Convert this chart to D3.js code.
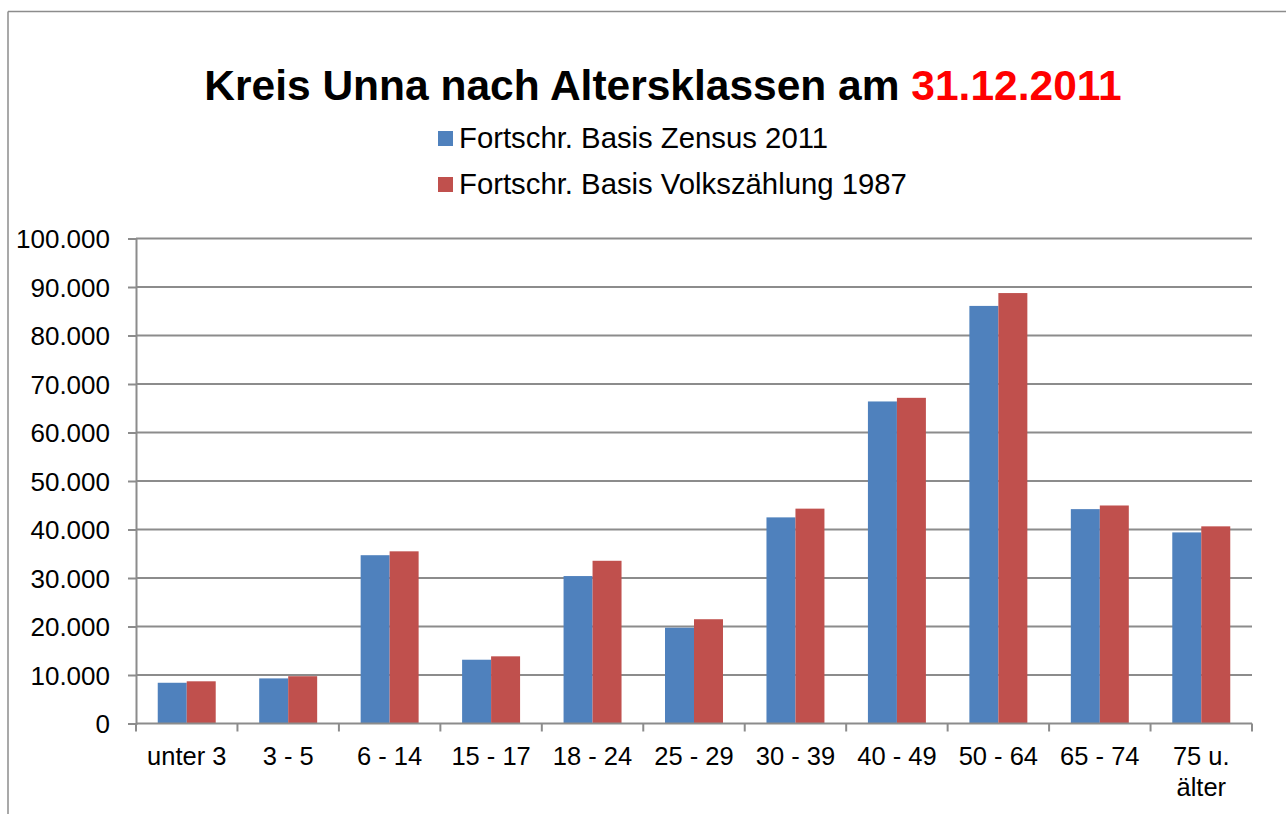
<!DOCTYPE html>
<html>
<head>
<meta charset="utf-8">
<script src="https://cdn.jsdelivr.net/npm/d3@7"></script>
<style>
  body { margin: 0; background: #fff; }
  text { font-family: "Liberation Sans", Arial, sans-serif; fill: #000; }
</style>
</head>
<body>
<div id="chart"></div>
<script>
const categories = ["unter 3", "3 - 5", "6 - 14", "15 - 17", "18 - 24", "25 - 29", "30 - 39", "40 - 49", "50 - 64", "65 - 74", "75 u. älter"];
const seriesNames = ["Fortschr. Basis Zensus 2011", "Fortschr. Basis Volkszählung 1987"];
const zensus2011 = [8400, 9300, 34700, 13150, 30400, 19750, 42500, 66400, 86100, 44200, 39400];
const volkszaehlung1987 = [8700, 9750, 35500, 13850, 33550, 21500, 44300, 67150, 88750, 44950, 40650];
const yTicks = [0, 10000, 20000, 30000, 40000, 50000, 60000, 70000, 80000, 90000, 100000];

const W = 1286, H = 814;
const plot = {left: 136, right: 1252, top: 238.5, bottom: 723.5};
const colors = ["#4F81BD", "#C0504D"];
const gridColor = "#8c8c8c";

const de = d3.formatLocale({decimal: ",", thousands: ".", grouping: [3], currency: ["", " €"]});
const fmt = de.format(",d");

const svg = d3.select("#chart")
    .append("svg")
    .attr("width", W)
    .attr("height", H);

// outer chart border (top + left visible)
svg.append("line").attr("x1", 8).attr("x2", W).attr("y1", 11.5).attr("y2", 11.5)
    .attr("stroke", gridColor).attr("stroke-width", 1.5);
svg.append("line").attr("x1", 8).attr("x2", 8).attr("y1", 11.5).attr("y2", H)
    .attr("stroke", gridColor).attr("stroke-width", 1.5);

// title
const title = svg.append("text")
    .attr("x", 663).attr("y", 100)
    .attr("text-anchor", "middle")
    .style("font-size", "42.5px")
    .style("font-weight", "bold");
title.append("tspan").text("Kreis Unna nach Altersklassen am ");
title.append("tspan").style("fill", "#FF0000").text("31.12.2011");

// legend
seriesNames.forEach((name, i) => {
    const yBase = 148 + i * 46;
    svg.append("rect")
        .attr("x", 438).attr("y", yBase - 17)
        .attr("width", 15).attr("height", 15)
        .attr("fill", colors[i]);
    svg.append("text")
        .attr("x", 459).attr("y", yBase)
        .style("font-size", "29.3px")
        .text(name);
});

const x = d3.scaleBand().domain(categories).range([plot.left, plot.right]);
const y = d3.scaleLinear().domain([0, 100000]).range([plot.bottom, plot.top]);

// gridlines
svg.append("g")
    .selectAll("line")
    .data(yTicks.slice(1))
    .join("line")
    .attr("x1", plot.left).attr("x2", plot.right)
    .attr("y1", d => y(d)).attr("y2", d => y(d))
    .attr("stroke", gridColor).attr("stroke-width", 2);

// bars: gap width 150%
const barW = x.bandwidth() / 3.5;
const allSeries = [zensus2011, volkszaehlung1987];
allSeries.forEach((vals, s) => {
    svg.append("g")
        .selectAll("rect")
        .data(vals)
        .join("rect")
        .attr("x", (d, i) => x(categories[i]) + 0.75 * barW + s * barW)
        .attr("y", d => y(d))
        .attr("width", barW)
        .attr("height", d => y(0) - y(d))
        .attr("fill", colors[s]);
});

// y axis
const yAxis = svg.append("g")
    .attr("transform", `translate(${plot.left},0)`)
    .call(d3.axisLeft(y).tickValues(yTicks).tickFormat(fmt).tickSize(8).tickPadding(18));
yAxis.select(".domain").attr("stroke", gridColor).attr("stroke-width", 2);
yAxis.selectAll(".tick line").attr("stroke", gridColor).attr("stroke-width", 2);
yAxis.selectAll(".tick text")
    .attr("font-family", null).attr("font-size", null)
    .style("font-size", "26px").attr("dy", "0.36em");

// x axis: ticks at category boundaries
const xAxis = svg.append("g").attr("transform", `translate(0,${plot.bottom})`);
xAxis.append("line")
    .attr("x1", plot.left).attr("x2", plot.right)
    .attr("stroke", gridColor).attr("stroke-width", 2);
xAxis.selectAll(".xtick")
    .data(categories.concat([null]))
    .join("line")
    .attr("class", "xtick")
    .attr("x1", (d, i) => plot.left + i * x.step())
    .attr("x2", (d, i) => plot.left + i * x.step())
    .attr("y1", 0).attr("y2", 8)
    .attr("stroke", gridColor).attr("stroke-width", 2);

const labels = xAxis.selectAll(".xlabel")
    .data(categories)
    .join("text")
    .attr("class", "xlabel")
    .attr("text-anchor", "middle")
    .style("font-size", "25.5px");
labels.each(function(d) {
    const parts = d === "75 u. älter" ? ["75 u.", "älter"] : [d];
    const t = d3.select(this);
    parts.forEach((p, k) => {
        t.append("tspan")
            .attr("x", x(d) + x.bandwidth() / 2)
            .attr("y", 41 + k * 31)
            .text(p);
    });
});
</script>
</body>
</html>
